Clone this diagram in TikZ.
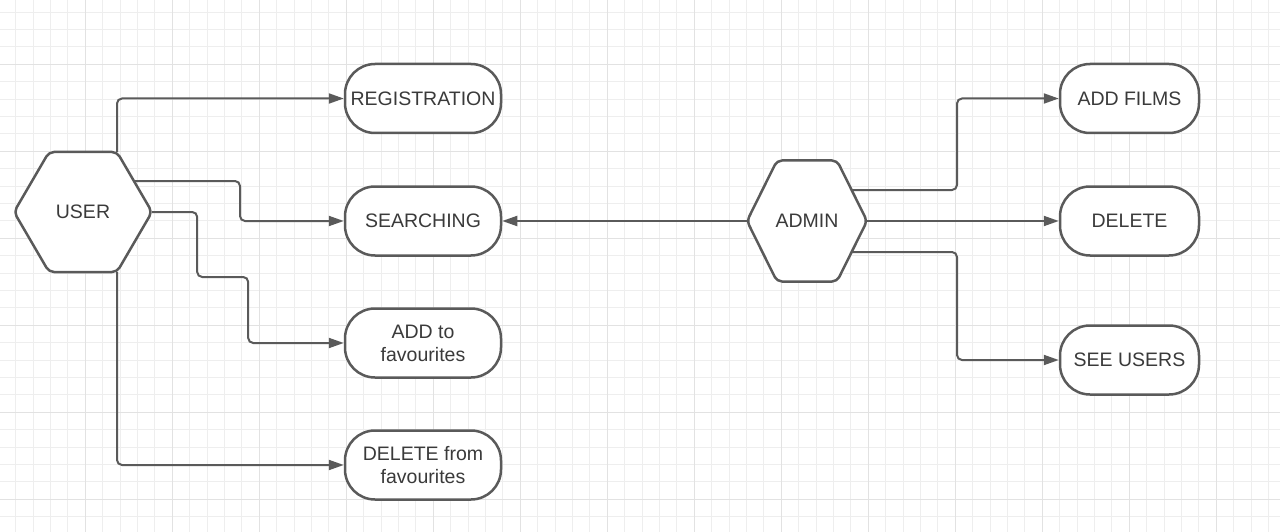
\documentclass[tikz,border=0pt]{standalone}
\usepackage{fontspec}
\setmainfont{Liberation Sans}
\usetikzlibrary{arrows.meta,calc}
\definecolor{ln}{HTML}{5A5A5A}
\definecolor{txt}{HTML}{3A3A3A}
\definecolor{gridminor}{HTML}{EEEEEE}
\definecolor{gridmajor}{HTML}{E2E2E2}
\begin{document}
\begin{tikzpicture}[x=1pt,y=-1pt,
  minorgrid/.style={draw=gridminor,line width=1pt},
  majorgrid/.style={draw=gridmajor,line width=1pt},
  hexa/.style={draw=ln,line width=2.5pt,fill=white,rounded corners=5pt,line join=round},
  hexlabel/.style={text=txt,font=\fontsize{19.5}{23}\selectfont,inner sep=0pt},
  term/.style={draw=ln,line width=2.5pt,fill=white,rounded corners=30pt,text=txt,
    font=\fontsize{19.5}{23}\selectfont,align=center,inner sep=0pt,minimum height=69pt},
  termL/.style={term,minimum width=156pt},
  termR/.style={term,minimum width=139pt},
  conn/.style={draw=ln,line width=2pt,rounded corners=5pt,-{Triangle[length=15pt,width=10pt]}}]
\useasboundingbox (0,0) rectangle (1280,532);
\fill[white] (0,0) rectangle (1280,532);
% grid
\foreach \i in {0,...,72} \draw[minorgrid] ({15.7+17.4*\i},0) -- ({15.7+17.4*\i},532);
\foreach \i in {0,...,29} \draw[minorgrid] (0,{12.1+17.4*\i}) -- (1280,{12.1+17.4*\i});
\foreach \i in {0,...,13} \draw[majorgrid] ({85.3+87*\i},0) -- ({85.3+87*\i},532);
\foreach \i in {0,...,5} \draw[majorgrid] (0,{64.3+87*\i}) -- (1280,{64.3+87*\i});

% hexagons
\coordinate (uc) at (83,212);
\coordinate (ac) at (807,221);
\draw[hexa] ($(uc)+(-69,0)$) -- ($(uc)+(-34,-60)$) -- ($(uc)+(34,-60)$) -- ($(uc)+(69,0)$)
  -- ($(uc)+(34,60)$) -- ($(uc)+(-34,60)$) -- cycle;
\draw[hexa] ($(ac)+(-60,0)$) -- ($(ac)+(-30,-60.5)$) -- ($(ac)+(30,-60.5)$) -- ($(ac)+(60,0)$)
  -- ($(ac)+(30,60.5)$) -- ($(ac)+(-30,60.5)$) -- cycle;
\node[hexlabel,minimum width=138pt,minimum height=120pt] (user) at (uc) {USER};
\node[hexlabel,minimum width=120pt,minimum height=121pt] (admin) at (ac) {ADMIN};

% terminals
\node[termL] (reg) at (423,98.5) {REGISTRATION};
\node[termL] (search) at (423,221) {SEARCHING};
\node[termL] (addfav) at (423,343) {ADD to\\favourites};
\node[termL] (delfav) at (423,465) {DELETE from\\favourites};
\node[termR] (addfilms) at (1129.5,98.5) {ADD FILMS};
\node[termR] (delete) at (1129.5,221) {DELETE};
\node[termR] (seeusers) at (1129.5,360) {SEE USERS};

% connector start points
\coordinate (u0) at ($(uc)+(34,-60)$);
\coordinate (u1) at (134,181);
\coordinate (u2) at ($(uc)+(34,60)$);
\coordinate (a1) at (851,190);
\coordinate (a2) at (851,252);

% connectors
\draw[conn] (u0) |- (reg.west);
\draw[conn] (u1) -- ++(106,0) |- (search.west);
\draw[conn] (user.east) -- ++(45,0) -- ++(0,65) -- ++(51,0) |- (addfav.west);
\draw[conn] (u2) |- (delfav.west);
\draw[conn] (admin.west) -- (search.east);
\draw[conn] (a1) -- ++(106,0) |- (addfilms.west);
\draw[conn] (admin.east) -- (delete.west);
\draw[conn] (a2) -- ++(106,0) |- (seeusers.west);
\end{tikzpicture}
\end{document}
